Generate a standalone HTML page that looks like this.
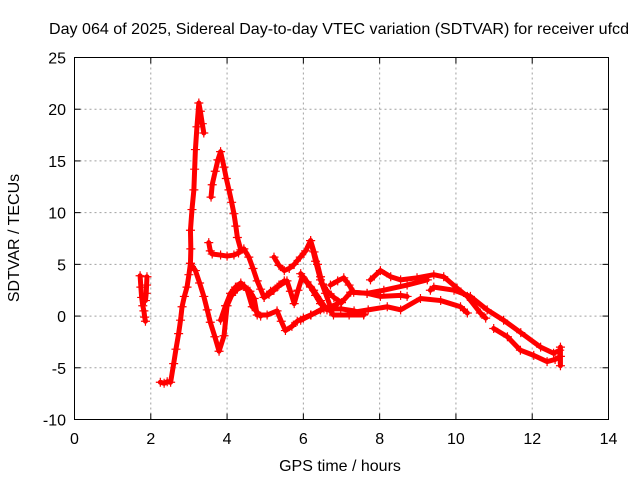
<!DOCTYPE html>
<html><head><meta charset="utf-8"><style>
body{margin:0;background:#fff;}
svg{display:block;font-family:"Liberation Sans",sans-serif;}
</style></head><body>
<svg id="chart" width="640" height="480" viewBox="0 0 640 480" xmlns="http://www.w3.org/2000/svg">
<rect x="0" y="0" width="640" height="480" fill="#fff"/>
<text x="339" y="34" font-size="16" text-anchor="middle" textLength="580" lengthAdjust="spacingAndGlyphs" fill="#000">Day 064 of 2025, Sidereal Day-to-day VTEC variation (SDTVAR) for receiver ufcd</text>
<text x="340" y="471" font-size="16" text-anchor="middle" fill="#000">GPS time / hours</text>
<text x="0" y="0" font-size="16" text-anchor="middle" fill="#000" transform="translate(19,238) rotate(-90)">SDTVAR / TECUs</text>
<g id="grid"></g><g id="series"></g><g id="axes"></g>
</svg>
<script>
const xTicks=[0,2,4,6,8,10,12,14];
const yTicks=[-10,-5,0,5,10,15,20,25];
const traceA1=[[1.72,3.9],[1.74,2.8],[1.76,1.8],[1.79,1.0],[1.82,0.5],[1.84,-0.1],[1.86,-0.5]];
const traceA2=[[1.9,3.8],[1.89,3.0],[1.88,2.2],[1.86,1.5]];
const traceB=[[2.25,-6.4],[2.35,-6.5],[2.43,-6.35],[2.52,-6.4],[2.6,-4.6],[2.66,-3.2],[2.73,-1.7],[2.78,-0.4],[2.82,0.9],[2.88,1.9],[2.95,2.8],[3.0,4.0],[3.04,5.1],[3.05,6.5],[3.04,8.3],[3.08,10.3],[3.13,12.2],[3.15,14.2],[3.17,16.1],[3.21,18.3],[3.26,20.6],[3.3,19.8],[3.35,18.6],[3.39,17.7]];
const traceB2=[[3.04,5.1],[3.17,4.4],[3.28,3.2],[3.39,1.9],[3.48,0.6],[3.56,-0.6],[3.68,-2.0],[3.79,-3.4],[3.92,-1.9],[4.0,1.0],[4.12,2.0],[4.27,2.6],[4.45,2.9],[4.6,2.4],[4.71,1.7],[4.79,0.1],[5.05,0.1],[5.31,0.5],[5.42,-0.5],[5.53,-1.4],[5.7,-1.0],[5.84,-0.5],[6.0,-0.2],[6.19,0.1],[6.54,0.7],[6.98,0.7],[7.33,0.5],[7.59,0.2]];
const traceC=[[3.52,7.1],[3.56,6.3],[3.61,6.0],[3.83,5.9],[4.0,5.8],[4.18,5.9],[4.3,6.1],[4.44,6.5],[4.57,5.7],[4.68,4.6],[4.79,3.4],[4.88,2.6],[4.97,1.8],[5.1,2.1],[5.23,2.5],[5.36,3.0],[5.5,3.4]];
const traceD=[[3.58,11.5],[3.61,12.7],[3.69,14.0],[3.76,15.1],[3.83,15.9],[3.92,14.4],[3.98,13.3],[4.05,12.2],[4.12,11.0],[4.18,9.9],[4.23,8.7],[4.27,7.6],[4.36,6.4]];
const traceE=[[5.23,5.7],[5.36,4.9],[5.5,4.4],[5.63,4.6],[5.76,5.0],[5.92,5.7],[6.06,6.3],[6.19,7.3],[6.28,6.2],[6.37,5.0],[6.45,3.8],[6.5,3.1],[6.63,2.4],[6.8,1.8],[7.0,1.3],[7.24,2.3],[7.67,2.2],[8.11,2.5],[8.72,3.0],[9.25,3.5]];
const traceF=[[3.83,-0.4],[3.96,1.0],[4.09,2.2],[4.22,2.8],[4.36,3.2],[4.53,2.5],[4.66,0.9],[4.88,0.0]];
const traceG=[[4.97,1.8],[5.14,2.4],[5.31,2.8],[5.57,3.4],[5.66,2.4],[5.76,1.2],[5.86,2.5],[5.97,3.8],[6.08,3.3],[6.19,2.8],[6.32,2.0],[6.45,1.2],[6.71,0.5],[6.79,0.1],[7.2,0.1],[7.58,0.1]];
const traceH=[[5.93,-0.4],[6.2,0.1],[6.45,0.6],[6.71,0.9],[6.9,1.2]];
const traceI=[[5.93,4.1],[6.1,3.3],[6.27,2.5],[6.45,1.5],[6.62,0.6]];
const traceJ=[[6.19,7.3],[6.32,5.3],[6.45,3.5],[6.58,2.2],[6.71,0.9]];
const traceK=[[6.71,3.0],[6.9,3.4],[7.06,3.7],[7.2,3.0],[7.32,2.3],[7.67,2.2],[8.02,1.9],[8.55,2.0],[8.72,1.9]];
const traceL=[[7.76,3.5],[8.02,4.4],[8.29,3.8],[8.55,3.5],[8.98,3.7],[9.42,4.0],[9.68,3.8],[10.03,2.7],[10.3,1.9],[10.64,0.3],[10.78,-0.2]];
const traceM=[[9.33,2.5],[9.42,2.8],[9.95,2.5],[10.38,1.9],[10.82,0.6],[11.25,-0.4],[11.7,-1.6],[12.22,-3.0],[12.56,-3.6],[12.72,-3.3],[12.74,-4.8],[12.74,-3.0]];
const traceN=[[7.2,0.3],[7.7,0.6],[8.2,0.9],[8.55,0.6],[9.07,1.7],[9.6,1.5],[10.12,0.9],[10.3,0.3]];
const traceO=[[10.99,-1.2],[11.35,-2.0],[11.69,-3.3],[12.04,-3.8],[12.39,-4.4],[12.6,-4.2],[12.74,-3.9]];
const traces=[traceA1,traceA2,traceB,traceB2,traceC,traceD,traceE,traceF,traceG,traceH,traceI,traceJ,traceK,traceL,traceM,traceN,traceO];

const L=74.5,R=608.5,T=57.5,B=419.5;
const xMin=0,xMax=14,yMin=-10,yMax=25;
function sx(v){return L+(v-xMin)/(xMax-xMin)*(R-L);}
function sy(v){return B-(v-yMin)/(yMax-yMin)*(B-T);}
const NS="http://www.w3.org/2000/svg";
function mk(tag,attrs,parent){const e=document.createElementNS(NS,tag);for(const k in attrs)e.setAttribute(k,attrs[k]);parent.appendChild(e);return e;}
const grid=document.getElementById('grid'),axes=document.getElementById('axes'),series=document.getElementById('series');
xTicks.forEach(t=>{
  const x=sx(t);
  if(t>xMin&&t<xMax){const g=mk('line',{x1:x,y1:T,x2:x,y2:B,stroke:'#a0a0a0','stroke-dasharray':'2,3'},grid);
  
  }
  const tk=mk('line',{x1:x,y1:B,x2:x,y2:B-6,stroke:'#000'},axes);
  
  
  const tk2=mk('line',{x1:x,y1:T,x2:x,y2:T+6,stroke:'#000'},axes);
  
  
  const lb=mk('text',{x:x,y:444,'font-size':16,'text-anchor':'middle',fill:'#000'},axes);
  lb.textContent=t;
  
  
});
yTicks.forEach(t=>{
  const y=sy(t);
  if(t>yMin&&t<yMax){const g=mk('line',{x1:L,y1:y,x2:R,y2:y,stroke:'#a0a0a0','stroke-dasharray':'2,3'},grid);
  
  }
  const tk=mk('line',{x1:L,y1:y,x2:L+6,y2:y,stroke:'#000'},axes);
  
  
  const tk2=mk('line',{x1:R,y1:y,x2:R-6,y2:y,stroke:'#000'},axes);
  
  
  const lb=mk('text',{x:66,y:y+6,'font-size':16,'text-anchor':'end',fill:'#000'},axes);
  lb.textContent=t;
  
  
});
const border=mk('rect',{x:L,y:T,width:R-L,height:B-T,fill:'none',stroke:'#000'},axes);


traces.forEach(tr=>{
  const pl=mk('polyline',{points:tr.map(p=>sx(p[0])+','+sy(p[1])).join(' '),fill:'none',stroke:'#f00','stroke-width':5,'stroke-linejoin':'round','stroke-linecap':'round'},series);
  
  
  tr.forEach(p=>{
    const x=sx(p[0]),y=sy(p[1]);
    const m=mk('path',{d:`M${x-4.5},${y}H${x+4.5}M${x},${y-4.5}V${y+4.5}`,stroke:'#f00','stroke-width':1.2},series);
    
    
  });
});
</script>
</body></html>
